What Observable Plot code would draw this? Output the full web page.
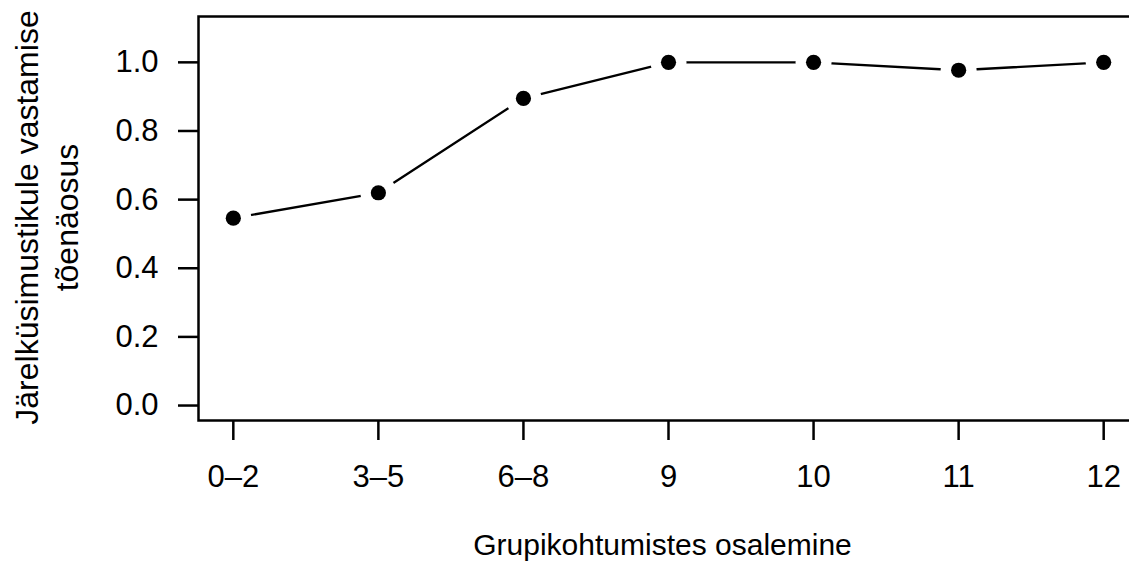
<!DOCTYPE html>
<html>
<head>
<meta charset="utf-8">
<script src="https://cdn.jsdelivr.net/npm/d3@7"></script>
<script src="https://cdn.jsdelivr.net/npm/@observablehq/plot@0.6"></script>
<style>
  html, body { margin: 0; padding: 0; background: white; overflow: hidden; }
</style>
</head>
<body>
<div id="chart"></div>
<script>
const groups = ["0–2", "3–5", "6–8", "9", "10", "11", "12"];
const probs = [0.546, 0.620, 0.895, 1.0, 1.0, 0.977, 1.0];
const yTicks = [0, 0.2, 0.4, 0.6, 0.8, 1.0];
const xTitle = "Grupikohtumistes osalemine";
const yTitle = "Järelküsimustikule vastamise\ntõenäosus";

const positions = groups.map((g, i) => i + 1);
const data = groups.map((g, i) => ({pos: i + 1, group: g, p: probs[i]}));

const fs = 31;
const fsXTitle = 30;
const fsYTitle = 32;

const chart = Plot.plot({
  width: 1129,
  height: 571,
  marginLeft: 198,
  marginRight: -9,
  marginTop: 16,
  marginBottom: 151,
  style: {
    fontFamily: "'Liberation Sans', Arial, Helvetica, sans-serif",
    fontSize: fs + "px",
    background: "white",
    overflow: "hidden",
    color: "black"
  },
  x: {domain: [0.76, 7.24]},
  y: {domain: [-0.0436, 1.1336]},
  marks: [
    Plot.frame({stroke: "black", strokeWidth: 2.5}),
    Plot.axisX({
      ticks: positions,
      tickFormat: (d) => groups[d - 1],
      tickSize: 20,
      tickPadding: 24,
      strokeWidth: 2.5,
      label: null,
      fontSize: fs
    }),
    Plot.axisY({
      ticks: yTicks,
      tickFormat: d3.format(".1f"),
      tickSize: 20,
      tickPadding: 20,
      strokeWidth: 2.5,
      label: null,
      fontSize: fs
    }),
    Plot.line(data, {x: "pos", y: "p", stroke: "black", strokeWidth: 2.3}),
    Plot.dot(data, {x: "pos", y: "p", r: 18, fill: "white", stroke: "none"}),
    Plot.dot(data, {x: "pos", y: "p", r: 7.6, fill: "black", stroke: "none"}),
    Plot.text([xTitle], {
      text: (d) => d,
      frameAnchor: "bottom",
      dx: -6,
      dy: 134,
      fontSize: fsXTitle,
      fill: "black"
    }),
    Plot.text([yTitle], {
      text: (d) => d,
      frameAnchor: "left",
      textAnchor: "middle",
      dx: -153,
      dy: -1,
      rotate: -90,
      lineHeight: 1.25,
      fontSize: fsYTitle,
      fill: "black"
    })
  ]
});

document.getElementById("chart").appendChild(chart);
</script>
</body>
</html>
